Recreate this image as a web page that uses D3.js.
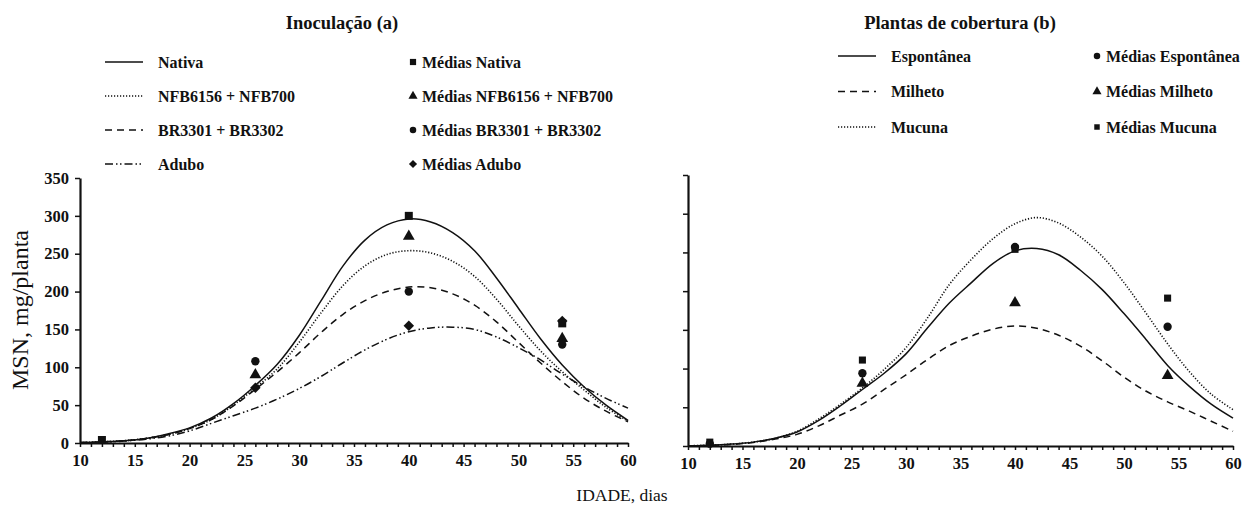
<!DOCTYPE html>
<html>
<head>
<meta charset="utf-8">
<script src="https://cdn.jsdelivr.net/npm/d3@7"></script>
<style>
  body { margin: 0; background: #fff; }
  svg { font-family: "Liberation Serif", "Times New Roman", serif; }
</style>
</head>
<body>
<svg id="chart" width="1245" height="511"></svg>
<script>
// dias em que as curvas ajustadas foram lidas
const dias = [10, 12, 14, 16, 18, 20, 22, 24, 26, 28, 30, 32, 34, 36, 38, 40, 42, 44, 46, 48, 50, 52, 54, 56, 58, 60];

// painel (a) Inoculação - curvas
const nativa = [0.5, 1.5, 3, 6, 12, 20, 33, 52, 76, 104, 142, 188, 234, 268, 288, 296, 292, 278, 254, 218, 178, 138, 103, 74, 50, 30];
const nfb = [0.5, 1.5, 3, 6, 11, 19, 31, 50, 73, 98, 133, 172, 208, 234, 249, 254, 251, 240, 220, 190, 155, 122, 94, 70, 47, 29];
const br = [0.5, 1.5, 3, 6, 11, 19, 31, 49, 71, 94, 119, 146, 170, 188, 200, 206, 205, 197, 182, 160, 133, 106, 81, 59, 42, 28];
const adubo = [0.3, 1, 2.5, 5, 9, 16, 26, 36, 46, 58, 72, 88, 106, 123, 137, 147, 152, 153, 150, 140, 126, 110, 91, 74, 59, 46];

// painel (b) Plantas de cobertura - curvas
const espontanea = [0.3, 1, 2.5, 5, 10, 18, 33, 52, 73, 94, 119, 153, 185, 211, 236, 252, 255, 247, 227, 202, 171, 138, 104, 77, 54, 36];
const milheto = [0.2, 0.8, 2, 4.5, 9, 15, 26, 40, 54, 73, 92, 112, 130, 142, 151, 155, 152, 143, 129, 110, 89, 71, 57, 45, 32, 19];
const mucuna = [0.3, 1, 2.5, 5, 10, 19, 35, 54, 75, 99, 127, 166, 209, 241, 268, 287, 295, 288, 270, 245, 211, 172, 132, 96, 67, 47];

// médias observadas
const diasMedias = [12, 26, 40, 54];
const mediasNativa = [4, null, 300, 158];
const mediasNfb = [null, 90, 273, 138];
const mediasBr = [null, 108, 200, 130];
const mediasAdubo = [null, 73, 155, 161];
const mediasEspontanea = [3, 94, 257, 154];
const mediasMilheto = [null, 81, 185, 91];
const mediasMucuna = [5, 111, 254, 191];

const xTicks = d3.range(10, 61, 1);
const yTicks = d3.range(0, 351, 50);

const estilos = {
  solid: null,
  dotted: '1.2,1.8',
  dashed: '7,5',
  dashdot: '8,3,1.5,2.5,1.5,3'
};

// losango = quadrado girado 45 graus
const simboloLosango = {
  draw(ctx, size) {
    const r = Math.sqrt(size / 2);
    ctx.moveTo(0, -r); ctx.lineTo(r, 0); ctx.lineTo(0, r); ctx.lineTo(-r, 0); ctx.closePath();
  }
};

const svg = d3.select('#chart');

function painel(cfg) {
  const x = d3.scaleLinear().domain([10, 60]).range([cfg.x0, cfg.x1]);
  const y = d3.scaleLinear().domain([0, 350]).range([cfg.y0, cfg.y1]);
  const g = svg.append('g');

  // eixo x
  const ax = g.append('g')
    .attr('transform', `translate(0,${cfg.y0})`)
    .call(d3.axisBottom(x).tickValues(xTicks).tickSize(4).tickSizeOuter(0).tickPadding(7)
      .tickFormat(d => d % 5 === 0 ? d : ''));
  // eixo y
  const ay = g.append('g')
    .attr('transform', `translate(${cfg.x0},0)`)
    .call(d3.axisLeft(y).tickValues(yTicks).tickSize(5).tickSizeOuter(0).tickPadding(6)
      .tickFormat(cfg.yLabels ? d => d : ''));
  [ax, ay].forEach(a => {
    a.select('.domain').attr('stroke', '#111').attr('stroke-width', 2.2);
    a.selectAll('.tick line').attr('stroke', '#111').attr('stroke-width', 1.5);
    a.selectAll('.tick text').attr('fill', '#111').attr('font-size', 16.5)
      .attr('font-weight', 700).attr('font-family', '"Liberation Serif", serif');
  });

  // curvas
  const line = d3.line()
    .x((d, i) => x(dias[i]))
    .y(d => y(d))
    .curve(d3.curveCatmullRom.alpha(0.5));
  cfg.curvas.forEach(c => {
    g.append('path')
      .datum(c.valores)
      .attr('d', line)
      .attr('fill', 'none')
      .attr('stroke', '#111')
      .attr('stroke-width', c.estilo === 'dotted' ? 1.6 : 1.5)
      .attr('stroke-dasharray', estilos[c.estilo]);
  });

  // médias
  cfg.medias.forEach(m => {
    g.append('g').selectAll('path')
      .data(m.valores.map((v, i) => ({ dia: diasMedias[i], v })).filter(d => d.v !== null))
      .enter().append('path')
      .attr('transform', d => `translate(${x(d.dia)},${y(d.v)})`)
      .attr('d', d3.symbol().type(m.simbolo).size(m.tam))
      .attr('fill', '#111');
  });

  // título
  svg.append('text')
    .attr('x', cfg.tituloX).attr('y', 29)
    .attr('text-anchor', 'middle')
    .attr('font-size', 18.5).attr('font-weight', 700).attr('fill', '#111')
    .text(cfg.titulo);

  // legenda das curvas
  cfg.curvas.forEach((c, i) => {
    const ly = cfg.legY + i * cfg.legDy;
    svg.append('line')
      .attr('x1', cfg.legX).attr('x2', cfg.legX + 38)
      .attr('y1', ly).attr('y2', ly)
      .attr('stroke', '#111').attr('stroke-width', 1.6)
      .attr('stroke-dasharray', estilos[c.estilo]);
    svg.append('text')
      .attr('x', cfg.legX + 53).attr('y', ly + 5.5)
      .attr('font-size', 16).attr('font-weight', 700).attr('fill', '#111')
      .text(c.nome);
  });
  // legenda das médias
  cfg.medias.forEach((m, i) => {
    const ly = cfg.legY + i * cfg.legDy;
    svg.append('path')
      .attr('transform', `translate(${cfg.legMX},${ly})`)
      .attr('d', d3.symbol().type(m.simbolo).size(m.tam * 0.6))
      .attr('fill', '#111');
    svg.append('text')
      .attr('x', cfg.legMX + 9).attr('y', ly + 5.5)
      .attr('font-size', 16).attr('font-weight', 700).attr('fill', '#111')
      .text(m.nome);
  });
}

painel({
  x0: 80, x1: 628, y0: 443, y1: 178, yLabels: true,
  titulo: 'Inoculação (a)', tituloX: 342,
  legX: 105, legMX: 413, legY: 62, legDy: 34,
  curvas: [
    { nome: 'Nativa', valores: nativa, estilo: 'solid' },
    { nome: 'NFB6156 + NFB700', valores: nfb, estilo: 'dotted' },
    { nome: 'BR3301 + BR3302', valores: br, estilo: 'dashed' },
    { nome: 'Adubo', valores: adubo, estilo: 'dashdot' }
  ],
  medias: [
    { nome: 'Médias Nativa', valores: mediasNativa, simbolo: d3.symbolSquare, tam: 64 },
    { nome: 'Médias NFB6156 + NFB700', valores: mediasNfb, simbolo: d3.symbolTriangle, tam: 60 },
    { nome: 'Médias BR3301 + BR3302', valores: mediasBr, simbolo: d3.symbolCircle, tam: 55 },
    { nome: 'Médias Adubo', valores: mediasAdubo, simbolo: simboloLosango, tam: 55 }
  ]
});

painel({
  x0: 688, x1: 1233, y0: 446, y1: 175, yLabels: false,
  titulo: 'Plantas de cobertura (b)', tituloX: 960,
  legX: 838, legMX: 1097, legY: 56, legDy: 35.5,
  curvas: [
    { nome: 'Espontânea', valores: espontanea, estilo: 'solid' },
    { nome: 'Milheto', valores: milheto, estilo: 'dashed' },
    { nome: 'Mucuna', valores: mucuna, estilo: 'dotted' }
  ],
  medias: [
    { nome: 'Médias Espontânea', valores: mediasEspontanea, simbolo: d3.symbolCircle, tam: 55 },
    { nome: 'Médias Milheto', valores: mediasMilheto, simbolo: d3.symbolTriangle, tam: 60 },
    { nome: 'Médias Mucuna', valores: mediasMucuna, simbolo: d3.symbolSquare, tam: 50 }
  ]
});

// títulos dos eixos
svg.append('text')
  .attr('transform', 'translate(28,310) rotate(-90)')
  .attr('text-anchor', 'middle')
  .attr('font-size', 24).attr('fill', '#111')
  .text('MSN, mg/planta');
svg.append('text')
  .attr('x', 622).attr('y', 501)
  .attr('text-anchor', 'middle')
  .attr('font-size', 17.5).attr('fill', '#111')
  .text('IDADE, dias');
</script>
</body>
</html>
